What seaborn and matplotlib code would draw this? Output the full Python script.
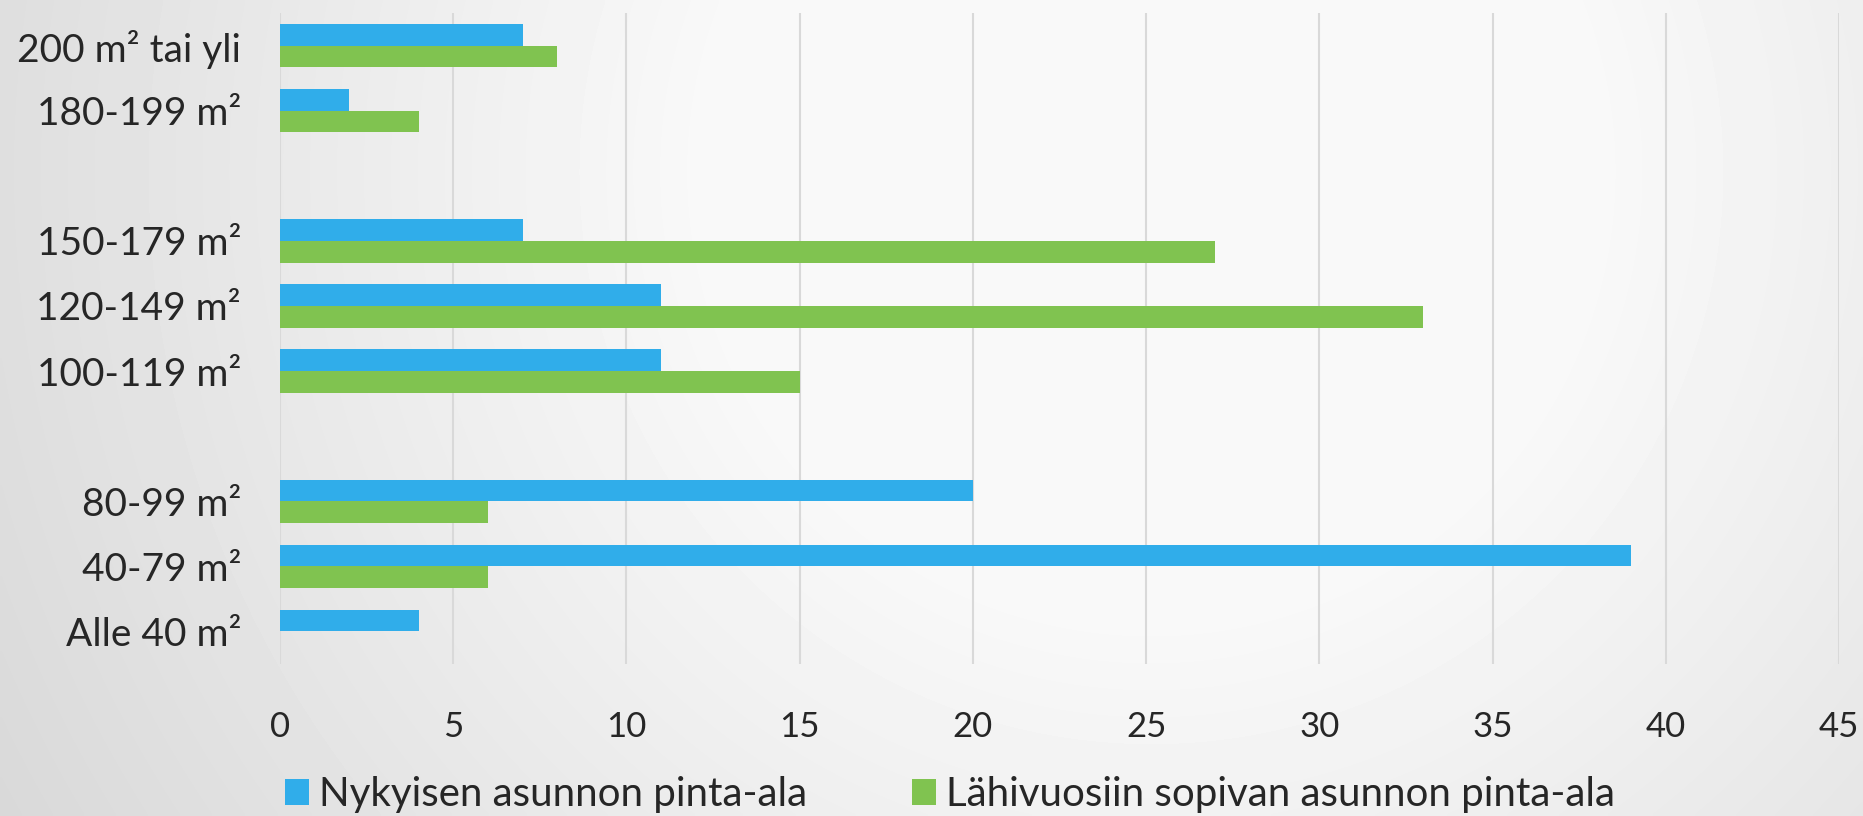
import numpy as np
import pandas as pd
import seaborn as sns
import matplotlib.pyplot as plt

# data
categories = ["200 m² tai yli", "180-199 m²", "", "150-179 m²", "120-149 m²",
              "100-119 m²", " ", "80-99 m²", "40-79 m²", "Alle 40 m²"]
current_area = [7, 2, None, 7, 11, 11, None, 20, 39, 4]
future_area = [8, 4, None, 27, 33, 15, None, 6, 6, 0]
series = ["Nykyisen asunnon pinta-ala", "Lähivuosiin sopivan asunnon pinta-ala"]
x_ticks = [0, 5, 10, 15, 20, 25, 30, 35, 40, 45]

df = pd.DataFrame({
    "category": categories * 2,
    "series": [series[0]] * len(categories) + [series[1]] * len(categories),
    "value": current_area + future_area,
}).dropna()

sns.set_style("white")
plt.rcParams["font.family"] = ["Lato", "DejaVu Sans"]

W, H = 1863, 816
fig = plt.figure(figsize=(W / 100, H / 100), dpi=100)

# soft grey background gradient
bg = fig.add_axes([0, 0, 1, 1], zorder=-10)
yy, xx = np.mgrid[0:H:4, 0:W:4]
d = np.hypot(xx - 1150, yy - 170)
shade = np.clip(1.04 - 1.45e-4 * d, 0.85, 0.975)
bg.imshow(shade, cmap="gray", vmin=0, vmax=1, aspect="auto",
          extent=[0, 1, 0, 1], origin="upper", interpolation="bilinear")
bg.set_axis_off()

ax = fig.add_axes([280 / W, 1 - 664 / H, (1839 - 280) / W, (664 - 13) / H])
ax.patch.set_alpha(0)

sns.barplot(data=df, y="category", x="value", hue="series", order=categories,
            hue_order=series, palette=["#30ADEA", "#80C350"], width=0.667,
            linewidth=0, saturation=1, errorbar=None, orient="h", ax=ax)

ax.set_xlim(0, 45)
ax.set_ylim(len(categories) - 0.5, -0.5)
ax.set_xticks(x_ticks)
ax.set_xlabel("")
ax.set_ylabel("")
ax.grid(axis="x", color="#d9d9d9", linewidth=1.5)
ax.grid(axis="y", visible=False)
ax.set_axisbelow(True)
for s in ax.spines.values():
    s.set_visible(False)
ax.tick_params(axis="y", length=0, pad=28, labelsize=28, labelcolor="#262626")
ax.tick_params(axis="x", length=0, pad=34, labelsize=25, labelcolor="#262626")

handles, labels = ax.get_legend_handles_labels()
ax.legend(handles, labels, loc="center", bbox_to_anchor=(0.51, 0.026),
          bbox_transform=fig.transFigure, ncol=2, frameon=False, fontsize=29,
          handlelength=0.6, handleheight=0.6, handletextpad=0.25,
          columnspacing=2.6, labelcolor="#262626")

fig.savefig("out.png", dpi=100)
plt.close(fig)
